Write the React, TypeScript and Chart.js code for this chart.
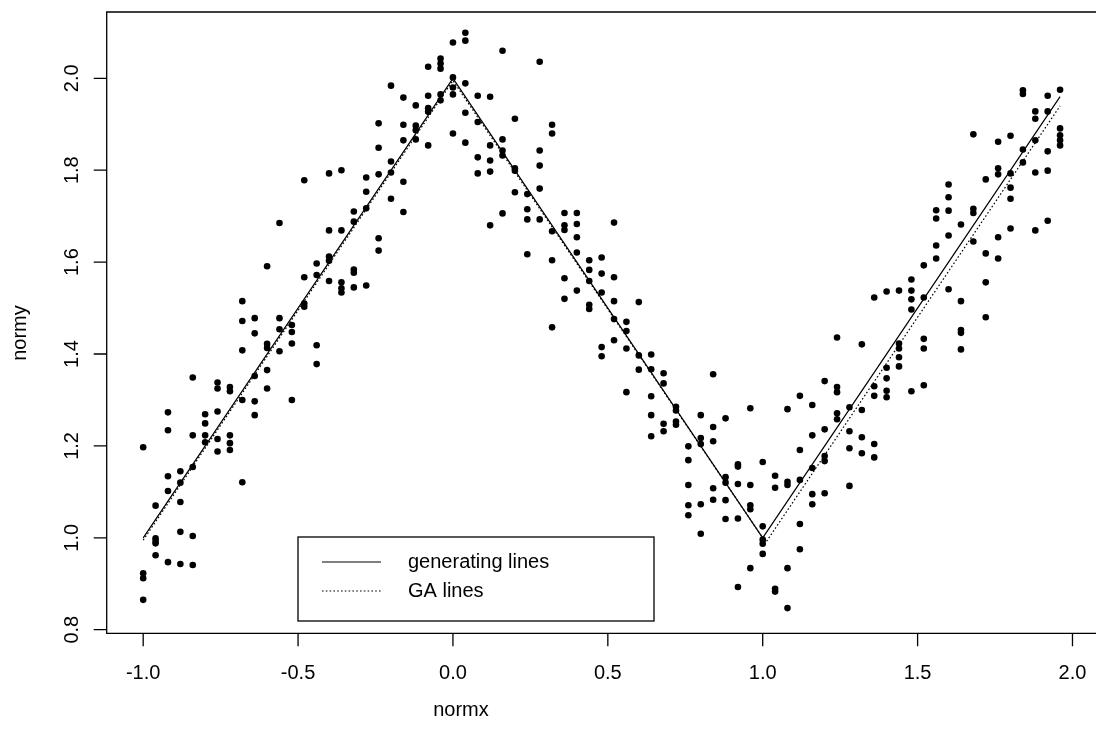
import React, { useEffect, useRef } from "react";
import { Chart, registerables } from "chart.js";

Chart.register(...registerables);

// ---- axis ticks ----
const xTicks = [-1, -0.5, 0, 0.5, 1, 1.5, 2];
const xTickLabels = ["-1.0", "-0.5", "0.0", "0.5", "1.0", "1.5", "2.0"];
const yTicks = [0.8, 1.0, 1.2, 1.4, 1.6, 1.8, 2.0];
const yTickLabels = ["0.8", "1.0", "1.2", "1.4", "1.6", "1.8", "2.0"];
const xRange = [-1.1178, 2.0653];
const yRange = [0.7922, 2.1443];

// ---- lines ----
const genX = [-1, 0, 1, 1.96];
const genY = [1, 2, 1, 1.96];
const gaX = [-1, 0, 1.01, 1.96];
const gaY = [0.995, 1.995, 0.99, 1.94];

// ---- observed points, column x values and the y values in each column ----
const leftX = [-1.0, -0.96, -0.92, -0.88, -0.84, -0.8, -0.76, -0.72, -0.68, -0.64, -0.6, -0.56, -0.52, -0.48, -0.44, -0.4, -0.36, -0.32, -0.28, -0.24, -0.2, -0.16, -0.12, -0.08, -0.04];
const leftY = [
  [1.197, 0.923, 0.912, 0.865],
  [1.07, 0.999, 0.993, 0.988, 0.962],
  [1.273, 1.234, 1.134, 1.102, 0.947],
  [1.145, 1.12, 1.078, 1.013, 0.943],
  [1.349, 1.223, 1.154, 1.004, 0.941],
  [1.269, 1.249, 1.223, 1.208],
  [1.338, 1.325, 1.275, 1.215, 1.188],
  [1.328, 1.319, 1.223, 1.206, 1.191],
  [1.515, 1.472, 1.408, 1.3, 1.121],
  [1.478, 1.445, 1.352, 1.297, 1.267],
  [1.591, 1.422, 1.413, 1.365, 1.325],
  [1.685, 1.478, 1.454, 1.406],
  [1.463, 1.448, 1.423, 1.3],
  [1.778, 1.567, 1.51, 1.503],
  [1.597, 1.572, 1.419, 1.378],
  [1.793, 1.669, 1.612, 1.603, 1.559],
  [1.8, 1.669, 1.556, 1.543, 1.534],
  [1.71, 1.688, 1.584, 1.577, 1.545],
  [1.784, 1.753, 1.717, 1.549],
  [1.902, 1.849, 1.791, 1.652, 1.625],
  [1.984, 1.819, 1.795, 1.738],
  [1.958, 1.899, 1.865, 1.775, 1.709],
  [1.941, 1.897, 1.887, 1.867],
  [2.025, 1.962, 1.935, 1.927, 1.854],
  [2.043, 2.032, 2.021, 1.965, 1.952],
];

const midX = [0.0, 0.04, 0.08, 0.12, 0.16, 0.2, 0.24, 0.28, 0.32, 0.36, 0.4, 0.44, 0.48, 0.52, 0.56, 0.6, 0.64, 0.68, 0.72, 0.76, 0.8, 0.84, 0.88, 0.92, 0.96];
const midY = [
  [2.078, 2.002, 1.98, 1.965, 1.88],
  [2.099, 2.082, 1.989, 1.925, 1.86],
  [1.962, 1.905, 1.828, 1.793],
  [1.96, 1.854, 1.821, 1.797, 1.68],
  [2.06, 1.867, 1.843, 1.832, 1.706],
  [1.912, 1.804, 1.799, 1.752],
  [1.748, 1.715, 1.693, 1.617],
  [2.036, 1.843, 1.81, 1.76, 1.693],
  [1.899, 1.88, 1.667, 1.604, 1.458],
  [1.707, 1.68, 1.67, 1.565, 1.52],
  [1.707, 1.683, 1.654, 1.621, 1.538],
  [1.604, 1.583, 1.559, 1.507, 1.498],
  [1.61, 1.575, 1.534, 1.415, 1.395],
  [1.686, 1.567, 1.515, 1.476, 1.43],
  [1.47, 1.45, 1.412, 1.317],
  [1.513, 1.397, 1.366],
  [1.399, 1.367, 1.308, 1.267, 1.221],
  [1.358, 1.336, 1.248, 1.232],
  [1.285, 1.277, 1.253, 1.246],
  [1.199, 1.169, 1.115, 1.071, 1.049],
  [1.267, 1.217, 1.204, 1.073, 1.009],
  [1.356, 1.241, 1.21, 1.108, 1.083],
  [1.26, 1.132, 1.12, 1.082, 1.041],
  [1.16, 1.155, 1.117, 1.042, 0.893],
  [1.282, 1.115, 1.071, 1.062, 0.934],
];

const rightX = [1.0, 1.04, 1.08, 1.12, 1.16, 1.2, 1.24, 1.28, 1.32, 1.36, 1.4, 1.44, 1.48, 1.52, 1.56, 1.6, 1.64, 1.68, 1.72, 1.76, 1.8, 1.84, 1.88, 1.92, 1.96];
const rightY = [
  [1.165, 1.025, 0.996, 0.987, 0.965],
  [1.135, 1.109, 0.889, 0.883],
  [1.28, 1.122, 1.115, 0.934, 0.847],
  [1.309, 1.191, 1.126, 1.03, 0.975],
  [1.289, 1.223, 1.152, 1.095, 1.073],
  [1.341, 1.236, 1.178, 1.167, 1.097],
  [1.436, 1.328, 1.317, 1.271, 1.258],
  [1.284, 1.232, 1.195, 1.113],
  [1.421, 1.278, 1.219, 1.184],
  [1.523, 1.33, 1.309, 1.204, 1.175],
  [1.536, 1.37, 1.347, 1.32, 1.306],
  [1.538, 1.423, 1.412, 1.393, 1.373],
  [1.562, 1.538, 1.519, 1.497, 1.319],
  [1.593, 1.523, 1.433, 1.412, 1.332],
  [1.713, 1.695, 1.636, 1.608],
  [1.769, 1.741, 1.712, 1.658, 1.541],
  [1.682, 1.515, 1.452, 1.446, 1.41],
  [1.878, 1.716, 1.707, 1.645],
  [1.78, 1.619, 1.556, 1.48],
  [1.862, 1.804, 1.791, 1.654, 1.608],
  [1.875, 1.793, 1.762, 1.738, 1.673],
  [1.974, 1.966, 1.845, 1.817],
  [1.928, 1.912, 1.865, 1.795, 1.669],
  [1.962, 1.928, 1.841, 1.799, 1.69],
  [1.975, 1.891, 1.876, 1.865, 1.854],
];

const legendLabels = ["generating lines", "GA lines"];
const xTitle = "normx";
const yTitle = "normy";

const FONT = '"Liberation Sans", Arial, Helvetica, sans-serif';

function toPoints(xs: number[], ys: number[][]) {
  const out: { x: number; y: number }[] = [];
  xs.forEach((x, i) => ys[i].forEach((y) => out.push({ x, y })));
  return out;
}

const decorations = {
  id: "rDecorations",
  afterDraw(chart: any) {
    const ctx = chart.ctx as CanvasRenderingContext2D;
    const xs = chart.scales.x;
    const ys = chart.scales.y;
    const area = chart.chartArea;
    ctx.save();
    ctx.strokeStyle = "#000";
    ctx.fillStyle = "#000";
    ctx.lineWidth = 1.3;

    // box (right side lies beyond the canvas)
    ctx.beginPath();
    ctx.moveTo(chart.width + 2, area.top);
    ctx.lineTo(area.left, area.top);
    ctx.lineTo(area.left, area.bottom);
    ctx.lineTo(chart.width + 2, area.bottom);
    ctx.stroke();

    // x axis ticks and labels
    ctx.font = `20px ${FONT}`;
    ctx.textAlign = "center";
    ctx.textBaseline = "alphabetic";
    ctx.beginPath();
    xTicks.forEach((v) => {
      const px = xs.getPixelForValue(v);
      ctx.moveTo(px, area.bottom);
      ctx.lineTo(px, area.bottom + 13);
    });
    ctx.stroke();
    xTicks.forEach((v, i) => {
      ctx.fillText(xTickLabels[i], xs.getPixelForValue(v), area.bottom + 46);
    });

    // y axis ticks and labels (rotated)
    ctx.beginPath();
    yTicks.forEach((v) => {
      const py = ys.getPixelForValue(v);
      ctx.moveTo(area.left, py);
      ctx.lineTo(area.left - 13, py);
    });
    ctx.stroke();
    yTicks.forEach((v, i) => {
      ctx.save();
      ctx.translate(area.left - 29, ys.getPixelForValue(v));
      ctx.rotate(-Math.PI / 2);
      ctx.fillText(yTickLabels[i], 0, 0);
      ctx.restore();
    });

    // axis titles
    ctx.fillText(xTitle, 461, area.bottom + 83);
    ctx.save();
    ctx.translate(26, 333);
    ctx.rotate(-Math.PI / 2);
    ctx.fillText(yTitle, 0, 0);
    ctx.restore();

    // legend
    const lx = 298, ly = 537, lw = 356, lh = 84;
    ctx.fillStyle = "#fff";
    ctx.fillRect(lx, ly, lw, lh);
    ctx.strokeStyle = "#000";
    ctx.lineWidth = 1.3;
    ctx.strokeRect(lx, ly, lw, lh);
    const rows = [ly + 25, ly + 54];
    ctx.lineWidth = 1.2;
    ctx.beginPath();
    ctx.moveTo(lx + 24, rows[0]);
    ctx.lineTo(lx + 83, rows[0]);
    ctx.stroke();
    ctx.setLineDash([1.6, 2.2]);
    ctx.beginPath();
    ctx.moveTo(lx + 24, rows[1]);
    ctx.lineTo(lx + 83, rows[1]);
    ctx.stroke();
    ctx.setLineDash([]);
    ctx.fillStyle = "#000";
    ctx.textAlign = "left";
    ctx.textBaseline = "middle";
    legendLabels.forEach((t, i) => ctx.fillText(t, lx + 110, rows[i]));
    ctx.restore();
  },
};

export default function App() {
  const ref = useRef<HTMLCanvasElement | null>(null);
  useEffect(() => {
    if (!ref.current) return;
    const points = [
      ...toPoints(leftX, leftY),
      ...toPoints(midX, midY),
      ...toPoints(rightX, rightY),
    ];
    const chart = new Chart(ref.current, {
      type: "scatter",
      data: {
        datasets: [
          {
            label: legendLabels[0],
            data: genX.map((x, i) => ({ x, y: genY[i] })),
            showLine: true,
            borderColor: "#000",
            borderWidth: 1.2,
            pointRadius: 0,
            tension: 0,
            order: 1,
          },
          {
            label: legendLabels[1],
            data: gaX.map((x, i) => ({ x, y: gaY[i] })),
            showLine: true,
            borderColor: "#000",
            borderWidth: 1.2,
            borderDash: [1.6, 2.2],
            pointRadius: 0,
            tension: 0,
            order: 2,
          },
          {
            label: "points",
            data: points,
            backgroundColor: "#000",
            borderWidth: 0,
            pointRadius: 3.3,
            pointHoverRadius: 3.3,
            order: 3,
          },
        ],
      },
      options: {
        responsive: false,
        animation: false,
        devicePixelRatio: 1,
        events: [],
        layout: { padding: { left: 106.7, top: 12, right: 0, bottom: 102.7 } },
        plugins: { legend: { display: false }, tooltip: { enabled: false } },
        scales: {
          x: { type: "linear", min: xRange[0], max: xRange[1], display: false },
          y: { type: "linear", min: yRange[0], max: yRange[1], display: false },
        },
      },
      plugins: [decorations],
    });
    return () => chart.destroy();
  }, []);
  return (
    <div style={{ position: "fixed", left: 0, top: 0, width: 1096, height: 736, background: "#fff" }}>
      <canvas ref={ref} width={1096} height={736} style={{ display: "block" }} />
    </div>
  );
}
